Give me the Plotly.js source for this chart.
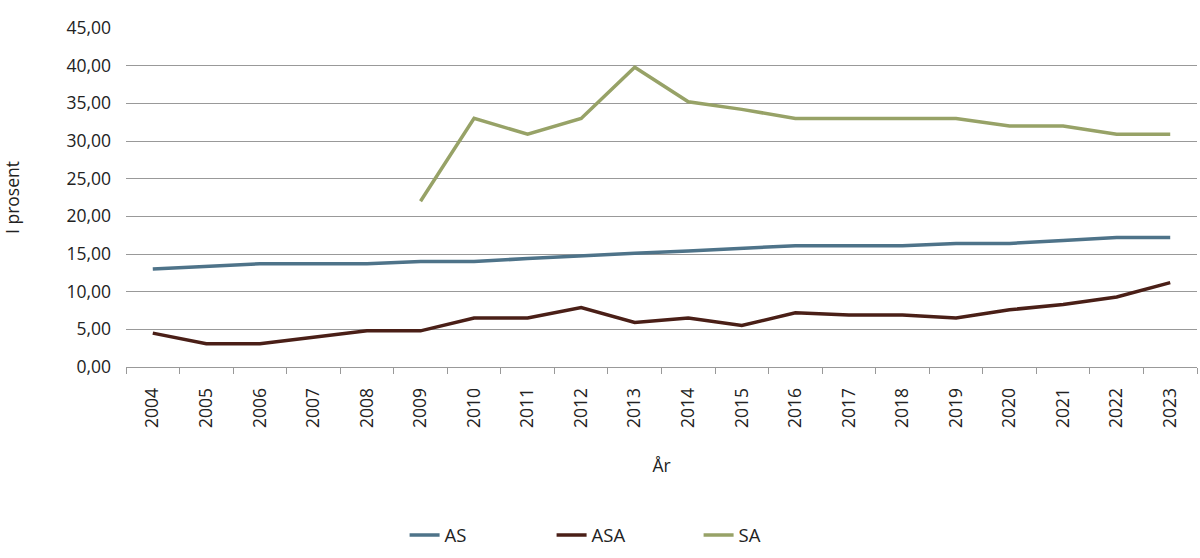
<!DOCTYPE html>
<html>
<head>
<meta charset="utf-8">
<script src="https://cdn.plot.ly/plotly-3.0.1.min.js"></script>
<style>html,body{margin:0;padding:0;background:#fff;}#chart{width:1200px;height:558px;}</style>
</head>
<body>
<div id="chart"></div>
<script>
const years = ["2004","2005","2006","2007","2008","2009","2010","2011","2012","2013","2014","2015","2016","2017","2018","2019","2020","2021","2022","2023"];
const AS  = [13.0,13.3,13.7,13.7,13.7,14.0,14.0,14.4,14.8,15.1,15.4,15.7,16.1,16.1,16.1,16.4,16.4,16.8,17.2,17.2];
const ASA = [4.5,3.1,3.1,3.9,4.8,4.8,6.5,6.5,7.9,5.9,6.5,5.5,7.2,6.9,6.9,6.5,7.6,8.3,9.3,11.2];
const SA  = [null,null,null,null,null,22.0,33.0,30.9,33.0,39.8,35.2,34.2,33.0,33.0,33.0,33.0,32.0,32.0,30.9,30.9];
const yTicks = [0,5,10,15,20,25,30,35,40,45];

const font = {family: "Open Sans, Noto Sans, sans-serif", size: 17.5, color: "#222"};
const mk = (name, y, color) => ({
  type: "scatter", mode: "lines", name: name, x: years, y: y,
  line: {color: color, width: 3.5}, connectgaps: false
});
const data = [
  mk("AS", AS, "#4e7389"),
  mk("ASA", ASA, "#4a1f17"),
  mk("SA", SA, "#97a267")
];
const layout = {
  width: 1200, height: 558,
  margin: {l: 126, r: 3, t: 28, b: 187},
  paper_bgcolor: "#fff", plot_bgcolor: "#fff",
  font: font,
  separators: ", ",
  showlegend: true,
  legend: {orientation: "h", x: 0.466, xanchor: "center", y: -0.497, yanchor: "middle",
           font: {family: font.family, size: 18.5, color: "#222"}, entrywidth: 102, entrywidthmode: "pixels"},
  xaxis: {
    type: "category", range: [-0.5, years.length - 0.5], tickangle: -90, showgrid: false,
    showline: true, linecolor: "#999", linewidth: 1,
    ticks: "outside", tickson: "boundaries", ticklen: 6, tickcolor: "#999",
    ticklabelstandoff: 13,
    tickfont: font, automargin: false,
    title: {text: "År", font: font, standoff: 32}
  },
  yaxis: {
    range: [0, 45], tickvals: yTicks, tickformat: ".2f",
    showgrid: true, gridcolor: "#999", gridwidth: 1,
    zeroline: false, showline: false, ticks: "", ticklabelstandoff: 14,
    tickfont: font, automargin: false,
    title: {text: "I prosent", font: font, standoff: 45}
  }
};
Plotly.newPlot("chart", data, layout, {staticPlot: true, displayModeBar: false});
</script>
</body>
</html>
